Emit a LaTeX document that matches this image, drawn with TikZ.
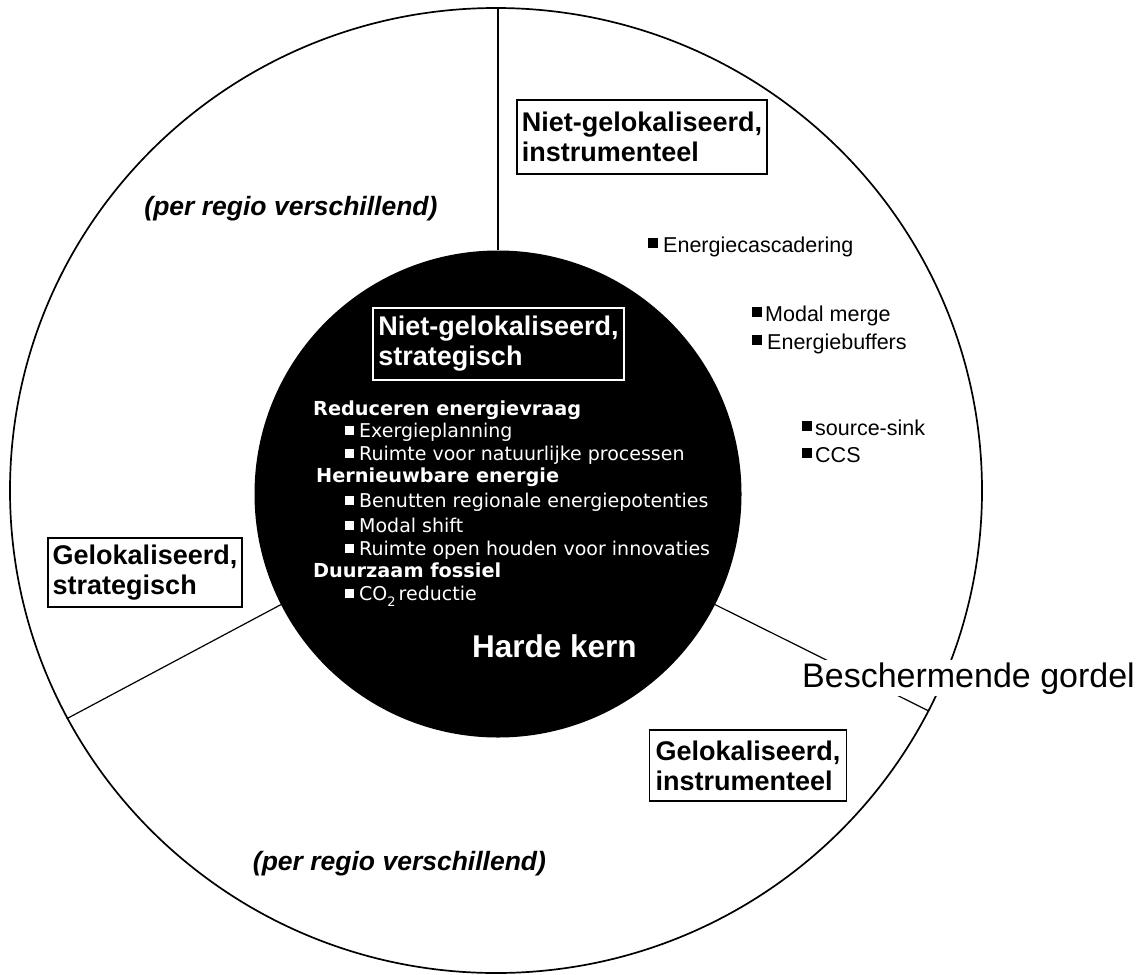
\documentclass[tikz,border=0pt]{standalone}
\usepackage{fontspec}
\setmainfont{Liberation Sans}
\newfontfamily\dejavu{DejaVu Sans}
\usetikzlibrary{shapes.geometric}

% small filled squares used as list bullets
\newcommand\whitesq{\rule[2pt]{9pt}{9pt}\hspace{5pt}}
\newcommand\blacksq[1][5pt]{\rule[4pt]{10pt}{10pt}\hspace{#1}}

\begin{document}
\begin{tikzpicture}[x=1pt,y=-1pt,
  belt/.style={ellipse, draw, line width=1.7pt, inner sep=0pt,
    minimum width=972pt, minimum height=965pt},
  core/.style={circle, fill=black, inner sep=0pt, minimum size=487pt},
  divider/.style={line width=1.2pt},
  titlebox/.style={draw, line width=1.5pt, align=left, inner xsep=4pt,
    inner ysep=0pt, font=\bfseries\fontsize{27}{30}\selectfont},
  note/.style={font=\bfseries\itshape\fontsize{26.5}{30}\selectfont},
  heading/.style={anchor=base west, inner sep=0pt, text=white,
    font=\dejavu\bfseries\fontsize{19.3}{22}\selectfont},
  item/.style={anchor=base west, inner sep=0pt, text=white,
    font=\dejavu\fontsize{19}{22}\selectfont},
  measure/.style={anchor=base west, inner sep=0pt,
    font=\fontsize{21.5}{24}\selectfont},
]
\fill[white] (0,0) rectangle (1142,974);
\useasboundingbox (0,0) rectangle (1142,974);

% protective belt and hard core
\node[belt] (belt) at (496,490.5) {};
\node[core] (core) at (498,494) {};

% sector dividers
\draw[divider] (core.north) -- (core.north |- belt.north);
\draw[divider] (core.207) -- (belt.208);
\draw[divider] (core.333) -- (belt.333);

% belt label (white background interrupts line and circle)
\node[fill=white, inner sep=2pt, anchor=base,
  font=\fontsize{34}{38}\selectfont] (beltname) at (968.5,687) {Beschermende gordel};

% sector titles
\node[titlebox, minimum width=250pt, minimum height=74pt] (nli) at (642,137)
  {Niet-gelokaliseerd,\\instrumenteel};
\node[titlebox, draw=white, text=white, minimum width=251pt, minimum height=72pt]
  (nls) at (498.5,344) {Niet-gelokaliseerd,\\strategisch};
\node[titlebox, minimum width=194pt, minimum height=69pt] (gls) at (145,572.5)
  {Gelokaliseerd,\\strategisch};
\node[titlebox, minimum width=197pt, minimum height=71pt] (gli) at (748,765.5)
  {Gelokaliseerd,\\instrumenteel};

% regional notes
\node[note] (noteup) at (291,209) {(per regio verschillend)};
\node[note] (notedown) at (399.5,864) {(per regio verschillend)};

% contents of the hard core
\node[heading] (h1) at (313,415) {Reduceren energievraag};
\node[item] (i11) at (345,437) {\whitesq Exergieplanning};
\node[item] (i12) at (345,460) {\whitesq Ruimte voor natuurlijke processen};
\node[heading] (h2) at (316,482) {Hernieuwbare energie};
\node[item] (i21) at (345,507) {\whitesq Benutten regionale energiepotenties};
\node[item] (i22) at (345,532) {\whitesq Modal shift};
\node[item] (i23) at (345,555) {\whitesq Ruimte open houden voor innovaties};
\node[heading] (h3) at (313,577) {Duurzaam fossiel};
\node[item] (i31) at (345,600)
  {\whitesq CO\raisebox{-6pt}{\fontsize{13}{13}\selectfont 2}\hspace{3pt}reductie};

\node[anchor=base west, inner sep=0pt, text=white,
  font=\bfseries\fontsize{31.5}{36}\selectfont] (hard) at (472,657) {Harde kern};

% instruments in the belt
\node[measure] (m1) at (648,252) {\blacksq Energiecascadering};
\node[measure] (m2) at (752,321) {\blacksq[3pt]Modal merge};
\node[measure] (m3) at (752,349) {\blacksq Energiebuffers};
\node[measure] (m4) at (802,435) {\blacksq[3pt]source-sink};
\node[measure] (m5) at (802,462) {\blacksq[3pt]CCS};
\end{tikzpicture}
\end{document}
